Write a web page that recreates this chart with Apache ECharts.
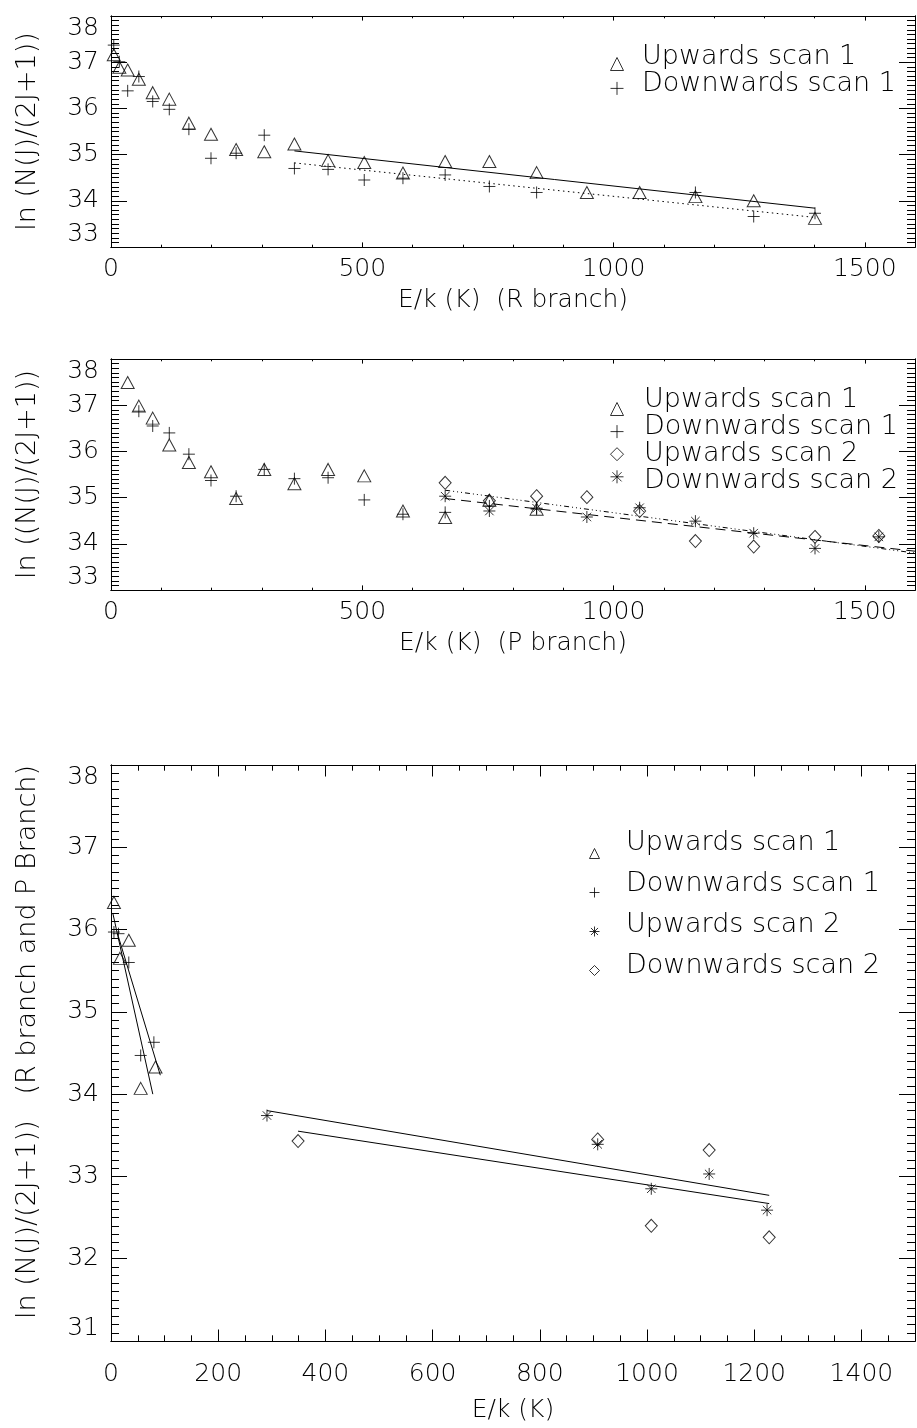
<!DOCTYPE html>
<html>
<head>
<meta charset="utf-8">
<title>CO rotational population diagrams</title>
<script src="https://cdn.jsdelivr.net/npm/echarts@6/dist/echarts.min.js"></script>
<style>
  html, body { margin: 0; padding: 0; background: #fff; }
  .pane { position: absolute; left: 0; top: 0; width: 917px; height: 1428px; }
</style>
</head>
<body>
<div id="rBranch" class="pane"></div>
<div id="pBranch" class="pane"></div>
<div id="combined" class="pane"></div>
<script>
// ---------- data: [E/k (K), ln(N(J)/(2J+1))] ----------

// R branch
const rUp1 = [[5.5,37.16],[16.6,36.89],[33.2,36.83],[55.4,36.63],[83,36.34],[116,36.20],[155,35.68],[199,35.44],[249,35.11],[305,35.06],[365,35.23],[432,34.87],[504,34.83],[581,34.60],[665,34.85],[753,34.85],[847,34.61],[947,34.18],[1052,34.18],[1163,34.09],[1279,34.00],[1401,33.62]];
const rDown1 = [[5.5,37.37],[16.6,37.01],[33.2,36.38],[55.4,36.69],[83,36.15],[116,35.98],[155,35.55],[199,34.92],[249,35.03],[305,35.42],[365,34.70],[432,34.68],[504,34.45],[581,34.49],[665,34.56],[753,34.31],[847,34.18],[1163,34.18],[1279,33.66],[1401,33.73]];
const rFitUp1 = [[365,35.08],[1401,33.84]];
const rFitDown1 = [[365,34.82],[1401,33.64]];

// P branch
const pUp1 = [[33.2,37.49],[55.4,36.98],[83,36.72],[116,36.14],[155,35.76],[199,35.56],[249,34.98],[305,35.61],[365,35.30],[432,35.61],[504,35.47],[581,34.71],[665,34.57],[753,34.94],[847,34.75]];
const pDown1 = [[55.4,36.87],[83,36.55],[116,36.40],[155,35.94],[199,35.37],[249,35.03],[305,35.61],[365,35.41],[432,35.43],[504,34.95],[581,34.64],[665,34.68],[753,34.82],[847,34.75]];
const pUp2 = [[665,35.32],[753,34.93],[847,35.03],[947,35.01],[1052,34.71],[1163,34.06],[1279,33.94],[1401,34.15],[1528,34.17]];
const pDown2 = [[665,35.03],[753,34.71],[847,34.77],[947,34.58],[1052,34.78],[1163,34.49],[1279,34.23],[1401,33.90],[1528,34.15]];
const pFitUp2 = [[665,35.16],[1600,33.80]];
const pFitDown2 = [[665,34.98],[1600,33.84]];

// R and P branch together
const cUp1 = [[5.5,36.33],[16.6,35.65],[33.2,35.87],[55.4,34.07],[83,34.33]];
const cDown1 = [[5.5,35.97],[14,35.95],[33.2,35.60],[55.4,34.47],[80,34.63]];
const cUp2 = [[291,33.74],[908,33.39],[1008,32.85],[1116,33.03],[1224,32.59]];
const cDown2 = [[349,33.43],[908,33.45],[1008,32.40],[1116,33.32],[1228,32.26]];
const cFitUp1 = [[3.7,36.19],[78,34.00]];
const cFitDown1 = [[14,35.91],[92,34.23]];
const cFitUp2 = [[291,33.80],[1228,32.77]];
const cFitDown2 = [[349,33.55],[1228,32.67]];

// series names
const UP1 = 'Upwards scan 1', DOWN1 = 'Downwards scan 1', UP2 = 'Upwards scan 2', DOWN2 = 'Downwards scan 2';

// ---------- look ----------
const FONT = 'DejaVu Sans';
const FW = 200;
const FS = 25;
const INK = '#000';

const SYM = {
  tri: 'triangle',
  plus: 'path://M6 0V12M0 6H12',
  star: 'path://M6 0V12M0 6H12M1.76 1.76L10.24 10.24M10.24 1.76L1.76 10.24',
  dia: 'diamond'
};

const txt = (extra) => Object.assign({ color: INK, fontFamily: FONT, fontWeight: FW, fontSize: FS }, extra || {});
// a fresh style object each time, so no two components share one
const ink1 = () => ({ color: INK, width: 1 });
const plain = (v) => String(v);

// one boxed plot: bottom/left axes carry labels, every side has major + minor inward ticks
function boxAxes(xs, ys, t) {
  const xb = () => ({ type: 'value', min: xs.min, max: xs.max, splitLine: { show: false },
                      axisLine: { show: true, onZero: false, lineStyle: ink1() } });
  const yb = () => ({ type: 'value', min: ys.min, max: ys.max, splitLine: { show: false },
                      axisLine: { show: true, onZero: false, lineStyle: ink1() } });
  const tick = (len) => ({ show: true, inside: true, length: len, lineStyle: ink1() });
  const off = () => ({ show: false });
  const xAxis = [
    Object.assign(xb(), { position: 'bottom', interval: xs.major, axisTick: tick(t.xMajor),
      axisLabel: Object.assign({ show: true, margin: t.xLabelMargin, showMaxLabel: xs.max % xs.major === 0, formatter: plain }, txt()),
      name: t.xName, nameLocation: 'middle', nameGap: t.xNameGap, nameMoveOverlap: false, nameTextStyle: txt() }),
    Object.assign(xb(), { position: 'bottom', interval: xs.minor, axisTick: tick(t.xMinor), axisLabel: off() }),
    Object.assign(xb(), { position: 'top', interval: xs.major, axisTick: tick(t.xMajor), axisLabel: off() }),
    Object.assign(xb(), { position: 'top', interval: xs.minor, axisTick: tick(t.xMinor), axisLabel: off() })
  ];
  const yAxis = [
    Object.assign(yb(), { position: 'left', interval: ys.major, axisTick: tick(t.yMajor),
      axisLabel: Object.assign({ show: true, margin: t.yLabelMargin, formatter: plain,
        verticalAlignMinLabel: 'bottom', verticalAlignMaxLabel: 'top' }, txt()),
      name: t.yName, nameLocation: 'middle', nameRotate: 90, nameGap: t.yNameGap, nameMoveOverlap: false,
      nameTextStyle: txt({ fontSize: 27, padding: t.yNamePad || 0 }) }),
    Object.assign(yb(), { position: 'left', interval: ys.minor, axisTick: tick(t.yMinor), axisLabel: off() }),
    Object.assign(yb(), { position: 'right', interval: ys.major, axisTick: tick(t.yMajor), axisLabel: off() }),
    Object.assign(yb(), { position: 'right', interval: ys.minor, axisTick: tick(t.yMinor), axisLabel: off() })
  ];
  return { xAxis, yAxis };
}

function marks(name, data, symbol, size) {
  return { type: 'scatter', name, data, symbol, symbolSize: size, silent: true,
           itemStyle: { color: 'transparent', borderColor: INK, borderWidth: 1 },
           emphasis: { disabled: true } };
}
function fit(data, dash) {
  return { type: 'line', data, showSymbol: false, symbol: 'none', silent: true,
           lineStyle: { color: INK, width: 1, type: dash }, emphasis: { disabled: true } };
}

// two legends: one holds the symbols, one holds the words
function legends(names, icons, iconBox, textBox) {
  return [
    { orient: 'vertical', left: iconBox.left, top: iconBox.top, padding: 0, selectedMode: false,
      itemWidth: iconBox.size, itemHeight: iconBox.size, itemGap: iconBox.gap,
      itemStyle: { borderWidth: 1 },
      data: names.map((n, i) => ({ name: n, icon: icons[i] })),
      formatter: () => '', textStyle: { fontSize: 1, color: 'transparent' } },
    { orient: 'vertical', left: textBox.left, top: textBox.top, padding: 0, selectedMode: false,
      icon: 'none', itemWidth: 1, itemHeight: 1, itemGap: textBox.gap,
      data: names, textStyle: txt({ fontSize: 27, lineHeight: textBox.lineHeight }) }
  ];
}

function render(id, opt) {
  const chart = echarts.init(document.getElementById(id), null, { renderer: 'canvas' });
  opt.animation = false;
  chart.setOption(opt);
}

// ---------- R branch ----------
(function () {
  const ax = boxAxes({ min: 0, max: 1600, major: 500, minor: 100 }, { min: 33, max: 38, major: 1, minor: 0.1 },
    { xMajor: 4.6, xMinor: 2.3, yMajor: 16, yMinor: 8, xLabelMargin: 10, yLabelMargin: 12,
      xName: 'E/k (K)  (R branch)', xNameGap: 41, yName: 'ln (N(J)/(2J+1))', yNameGap: 70 });
  render('rBranch', {
    grid: { left: 111, top: 16, width: 804, height: 231 },
    xAxis: ax.xAxis, yAxis: ax.yAxis,
    legend: legends([UP1, DOWN1], [SYM.tri, SYM.plus],
      { left: 610, top: 57, size: 13, gap: 10.4 },
      { left: 636, top: 43, gap: 0, lineHeight: 24 }),
    series: [
      marks(UP1, rUp1, SYM.tri, [13, 12]),
      marks(DOWN1, rDown1, SYM.plus, 12),
      fit(rFitUp1, 'solid'),
      fit(rFitDown1, [1.5, 3.5])
    ]
  });
})();

// ---------- P branch ----------
(function () {
  const ax = boxAxes({ min: 0, max: 1600, major: 500, minor: 100 }, { min: 33, max: 38, major: 1, minor: 0.1 },
    { xMajor: 4.6, xMinor: 2.3, yMajor: 16, yMinor: 8, xLabelMargin: 10, yLabelMargin: 12,
      xName: 'E/k (K)  (P branch)', xNameGap: 41, yName: 'ln ((N(J)/(2J+1))', yNameGap: 70 });
  render('pBranch', {
    grid: { left: 111, top: 359, width: 804, height: 231 },
    xAxis: ax.xAxis, yAxis: ax.yAxis,
    legend: legends([UP1, DOWN1, UP2, DOWN2], [SYM.tri, SYM.plus, SYM.dia, SYM.star],
      { left: 610, top: 402, size: 13, gap: 8.6 },
      { left: 638, top: 386, gap: 0, lineHeight: 23.4 }),
    series: [
      marks(UP1, pUp1, SYM.tri, [13, 12]),
      marks(DOWN1, pDown1, SYM.plus, 12),
      marks(UP2, pUp2, SYM.dia, [12, 13]),
      marks(DOWN2, pDown2, SYM.star, 12),
      fit(pFitUp2, [5, 3, 1, 3, 1, 3, 1, 3]),
      fit(pFitDown2, [10, 6])
    ]
  });
})();

// ---------- R and P branch ----------
(function () {
  const ax = boxAxes({ min: 0, max: 1500, major: 200, minor: 50 }, { min: 31, max: 38, major: 1, minor: 0.1 },
    { xMajor: 11.5, xMinor: 5.7, yMajor: 16, yMinor: 8, xLabelMargin: 21, yLabelMargin: 12,
      xName: 'E/k (K)', xNameGap: 57, yName: 'ln (N(J)/(2J+1))   (R branch and P Branch)', yNameGap: 70,
      yNamePad: [0, 0, 0, 22] });
  render('combined', {
    grid: { left: 111, top: 765, width: 804, height: 576 },
    xAxis: ax.xAxis, yAxis: ax.yAxis,
    legend: legends([UP1, DOWN1, UP2, DOWN2], [SYM.tri, SYM.plus, SYM.star, SYM.dia],
      { left: 589, top: 848, size: 10, gap: 28 },
      { left: 620, top: 829, gap: 14.3, lineHeight: 24 }),
    series: [
      marks(UP1, cUp1, SYM.tri, [13, 12]),
      marks(DOWN1, cDown1, SYM.plus, 12),
      marks(UP2, cUp2, SYM.star, 12),
      marks(DOWN2, cDown2, SYM.dia, [12, 13]),
      fit(cFitUp1, 'solid'),
      fit(cFitDown1, 'solid'),
      fit(cFitUp2, 'solid'),
      fit(cFitDown2, 'solid')
    ]
  });
})();
</script>
</body>
</html>
